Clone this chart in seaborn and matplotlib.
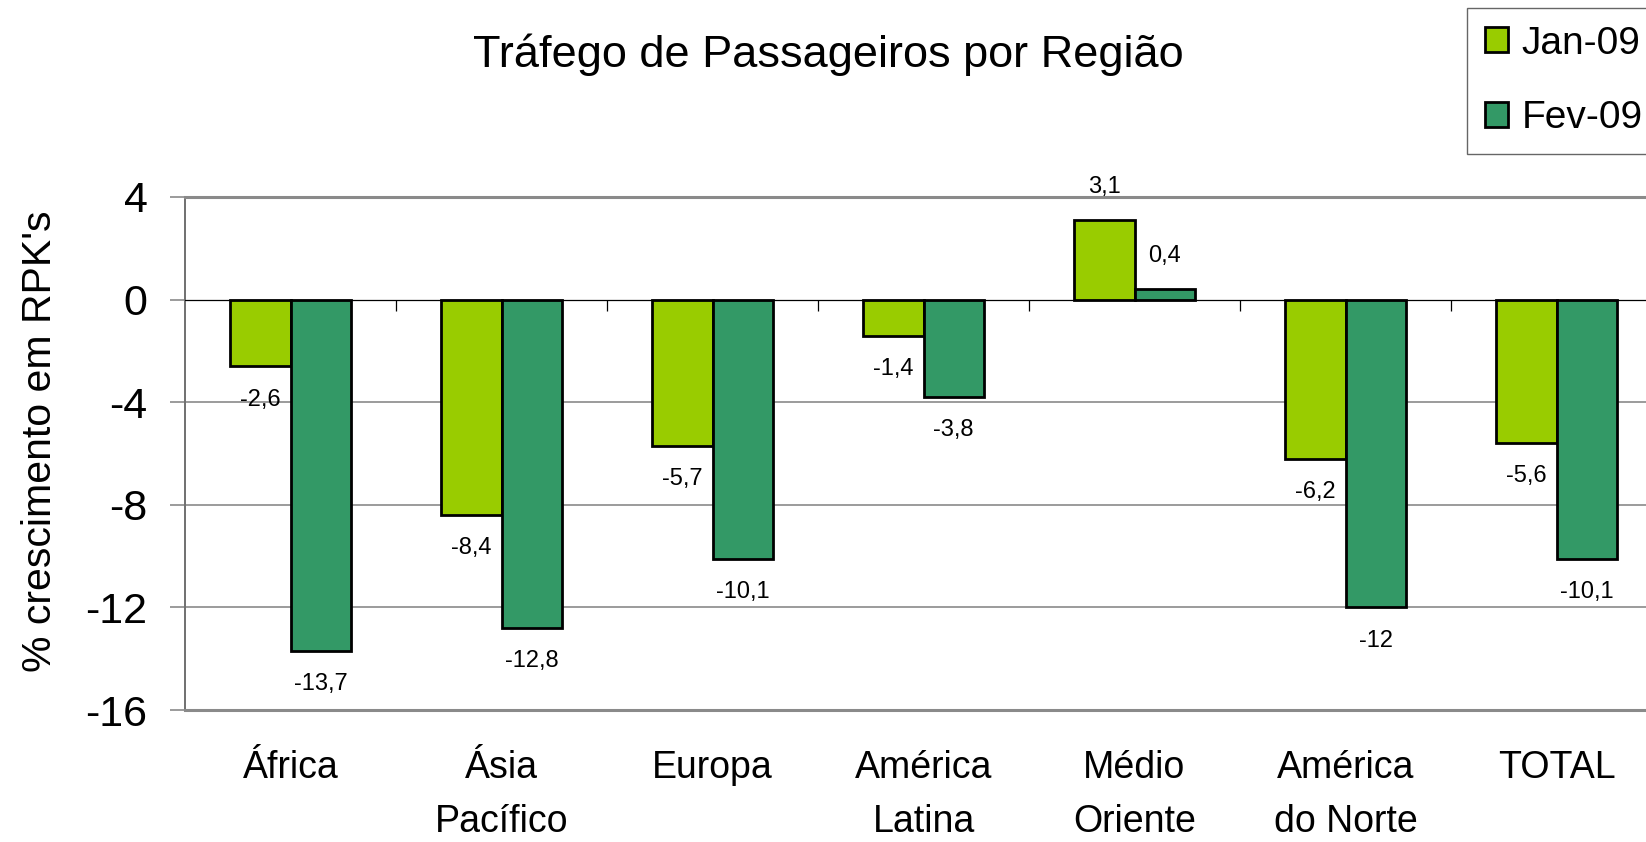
import matplotlib
matplotlib.use("Agg")
import matplotlib.pyplot as plt
import seaborn as sns
import pandas as pd
import numpy as np

# dados do grafico
regioes = ["África", "Ásia\nPacífico", "Europa", "América\nLatina",
           "Médio\nOriente", "América\ndo Norte", "TOTAL"]
meses = ["Jan-09", "Fev-09"]
jan_09 = [-2.6, -8.4, -5.7, -1.4, 3.1, -6.2, -5.6]
fev_09 = [-13.7, -12.8, -10.1, -3.8, 0.4, -12.0, -10.1]
cores = ["#99CC00", "#339966"]
y_ticks = [4, 0, -4, -8, -12, -16]

df = pd.DataFrame({
    "regiao": regioes * 2,
    "mes": [meses[0]] * len(regioes) + [meses[1]] * len(regioes),
    "valor": jan_09 + fev_09,
})


def fmt(v):
    # formato brasileiro com virgula
    if v == int(v):
        return str(int(v))
    return f"{v:.1f}".replace(".", ",")


sns.set_style("white")
plt.rcParams["font.family"] = ["Liberation Sans", "DejaVu Sans"]
plt.rcParams["text.color"] = "black"
plt.rcParams["xtick.labelcolor"] = "black"
plt.rcParams["ytick.labelcolor"] = "black"

fig = plt.figure(figsize=(16.46, 8.42), dpi=100)
ax = fig.add_axes([185 / 1646, 1 - 710 / 842, 7 * 211 / 1646, 513 / 842])

sns.barplot(data=df, x="regiao", y="valor", hue="mes", palette=cores,
            width=0.57, edgecolor="black", linewidth=2, saturation=1,
            errorbar=None, ax=ax)

for cont, vals in zip(ax.containers, [jan_09, fev_09]):
    ax.bar_label(cont, labels=[fmt(v) for v in vals], padding=16,
                 fontsize=17, color="black")

ax.set_ylim(-16, 4)
ax.set_yticks(y_ticks)
ax.set_yticklabels([str(t) for t in y_ticks], fontsize=31)
ax.set_xlim(-0.5, len(regioes) - 0.5)
ax.set_xlabel("")
ax.set_ylabel("")

# grade horizontal
for t in y_ticks[2:-1]:
    ax.axhline(t, color="#808080", lw=1.1, zorder=0)
ax.axhline(0, color="black", lw=0.9, zorder=3)
# marcas das categorias no eixo zero
ax.vlines(np.arange(len(regioes) - 1) + 0.5, -0.43, 0, color="black", lw=0.9)

for s in ["top", "bottom"]:
    ax.spines[s].set_color("#8a8a8a")
    ax.spines[s].set_linewidth(2.2)
ax.spines["left"].set_color("#707070")
ax.spines["left"].set_linewidth(1.4)
ax.spines["right"].set_visible(False)

ax.tick_params(axis="y", left=True, length=11, width=1.1, color="#808080", pad=16)
ax.tick_params(axis="x", bottom=False, length=0, pad=29)
for lbl in ax.get_xticklabels():
    lbl.set_fontsize(27)
    lbl.set_linespacing(1.62)
    lbl.set_color("black")

fig.text(828 / 1646, 1 - 55 / 842, "Tráfego de Passageiros por Região",
         fontsize=32.5, ha="center", va="center")
fig.text(40 / 1646, 1 - 441 / 842, "% crescimento em RPK's", fontsize=29.5,
         rotation=90, ha="center", va="center")

handles, labels = ax.get_legend_handles_labels()
ax.get_legend().remove()
leg = fig.legend(handles, labels, loc="upper left",
                 bbox_to_anchor=(1467 / 1646, 1 - 8 / 842), borderaxespad=0,
                 fontsize=28, handlelength=0.6, handleheight=0.6,
                 handletextpad=0.35, labelspacing=1.0, borderpad=0.45,
                 fancybox=False, frameon=True)
leg.get_frame().set_edgecolor("#404040")
leg.get_frame().set_linewidth(1.0)

fig.savefig("out.png", dpi=100)
